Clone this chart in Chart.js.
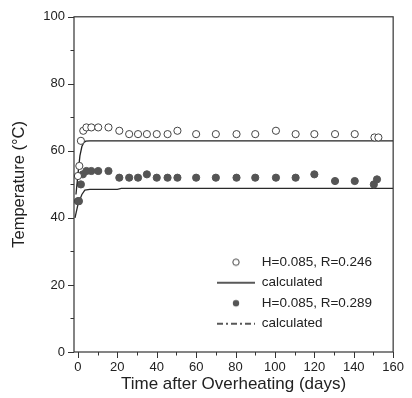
<!DOCTYPE html>
<html>
<head>
<meta charset="utf-8">
<script src="https://cdn.jsdelivr.net/npm/chart.js@4.4.1/dist/chart.umd.min.js"></script>
<style>
html,body{margin:0;padding:0;background:#fff;}
#wrap{width:412px;height:398px;}
</style>
</head>
<body>
<div id="wrap"><canvas id="c" width="412" height="398"></canvas></div>
<script>
// ---- data ----
const seriesNames = ['H=0.085, R=0.246', 'calculated', 'H=0.085, R=0.289', 'calculated'];

const openDays  = [0, 0.7, 1.5, 2.7, 4.3, 6.8, 10.3, 15.5, 21, 26, 30.5, 35, 40, 45.5, 50.5, 60, 70, 80.5, 90, 100.5, 110.5, 120, 130.5, 140.5, 150.5, 152.5];
const openTemps = [52.5, 55.5, 63, 66, 67, 67, 67, 67, 66, 65, 65, 65, 65, 65, 66, 65, 65, 65, 65, 66, 65, 65, 65, 65, 64, 64];

const filledDays  = [0, 0.5, 1.5, 2.5, 4.3, 6.8, 10.3, 15.5, 21, 26, 30.5, 35, 40, 45.5, 50.5, 60, 70, 80.5, 90, 100.5, 110.5, 120, 130.5, 140.5, 150.2, 151.8];
const filledTemps = [45, 45, 50, 53, 54, 54, 54, 54, 52, 52, 52, 53, 52, 52, 52, 52, 52, 52, 52, 52, 52, 53, 51, 51, 50, 51.5];

const calcADays  = [-1, 0, 1, 2, 3, 4, 6, 160];
const calcATemps = [47, 53, 58.5, 61.3, 62.5, 62.9, 63, 63];

const calcBDays  = [-1.5, 0, 2, 3.5, 6, 20, 22, 160];
const calcBTemps = [40, 44, 47, 48.3, 48.5, 48.5, 48.8, 48.8];

const xTickValues  = [0, 20, 40, 60, 80, 100, 120, 140, 160];
const xMinorValues = [10, 30, 50, 70, 90, 110, 130, 150];
const yTickValues  = [0, 20, 40, 60, 80, 100];
const yMinorValues = [10, 30, 50, 70, 90];

const xTitle = 'Time after Overheating (days)';
const yTitle = 'Temperature (\u00B0C)';

// ---- helpers ----
function zip(xs, ys){ return xs.map((v,i)=>({x:v, y:ys[i]})); }

function makeSymbol(kind){
  const c = document.createElement('canvas');
  const g = c.getContext('2d');
  if (kind === 'open' || kind === 'filled'){
    c.width = 10; c.height = 10;
    g.beginPath(); g.arc(5,5,3.2,0,Math.PI*2);
    if (kind === 'open'){ g.fillStyle='#fff'; g.fill(); g.lineWidth=1; g.strokeStyle='#444'; g.stroke(); }
    else { g.fillStyle='#555'; g.fill(); }
  } else {
    c.width = 38; c.height = 4;
    g.strokeStyle='#222'; g.lineWidth=1.3;
    if (kind === 'dashdot') g.setLineDash([6,3,2,3]);
    g.beginPath(); g.moveTo(0,2); g.lineTo(38,2); g.stroke();
  }
  return c;
}
const legendSymbols = [makeSymbol('open'), makeSymbol('solid'), makeSymbol('filled'), makeSymbol('dashdot')];

Chart.defaults.font.family = "'Liberation Sans', Arial, Helvetica, sans-serif";
Chart.defaults.color = '#222';

const framePlugin = {
  id: 'frameTicks',
  afterDatasetsDraw(chart){
    const {ctx, chartArea:{left,right,top,bottom}, scales:{x,y}} = chart;
    ctx.save();
    ctx.strokeStyle = '#333';
    ctx.lineWidth = 1.2;
    ctx.strokeRect(left, top, right-left, bottom-top);
    ctx.lineWidth = 1;
    ctx.beginPath();
    xTickValues.forEach(v=>{ const p = Math.round(x.getPixelForValue(v))+0.5; ctx.moveTo(p,bottom); ctx.lineTo(p,bottom+6); });
    xMinorValues.forEach(v=>{ const p = Math.round(x.getPixelForValue(v))+0.5; ctx.moveTo(p,bottom); ctx.lineTo(p,bottom+3.5); });
    yTickValues.forEach(v=>{ const p = Math.round(y.getPixelForValue(v))+0.5; ctx.moveTo(left,p); ctx.lineTo(left-6,p); });
    yMinorValues.forEach(v=>{ const p = Math.round(y.getPixelForValue(v))+0.5; ctx.moveTo(left,p); ctx.lineTo(left-3.5,p); });
    ctx.stroke();
    ctx.restore();
  }
};

const legendPosPlugin = {
  id: 'legendPos',
  afterLayout(chart){
    const lg = chart.legend;
    if (!lg) return;
    const w = lg.width, h = lg.height;
    lg.left = 210; lg.top = 248.5;
    lg.right = lg.left + w; lg.bottom = lg.top + h;
  }
};

new Chart(document.getElementById('c'), {
  type: 'scatter',
  data: {
    datasets: [
      { label: seriesNames[0], data: zip(openDays, openTemps), showLine: false,
        pointStyle: 'circle', pointRadius: 3.6, pointBackgroundColor: '#fff',
        pointBorderColor: '#444', pointBorderWidth: 1 },
      { label: seriesNames[1], data: zip(calcADays, calcATemps), showLine: true,
        pointRadius: 0, borderColor: '#222', borderWidth: 1.3, tension: 0 },
      { label: seriesNames[2], data: zip(filledDays, filledTemps), showLine: false,
        pointStyle: 'circle', pointRadius: 3.6, pointBackgroundColor: '#555',
        pointBorderColor: '#555', pointBorderWidth: 1 },
      { label: seriesNames[3], data: zip(calcBDays, calcBTemps), showLine: true,
        pointRadius: 0, borderColor: '#2a2a2a', borderWidth: 1.3, tension: 0 }
    ]
  },
  options: {
    responsive: false,
    animation: false,
    devicePixelRatio: 1,
    layout: { padding: { top: 15, right: 14, left: 0, bottom: 0 } },
    plugins: {
      tooltip: { enabled: false },
      legend: {
        position: 'chartArea',
        align: 'start',
        labels: {
          usePointStyle: true,
          pointStyleWidth: 38,
          padding: 7,
          font: { size: 13.5 },
          color: '#222',
          generateLabels(chart){
            return chart.data.datasets.map((ds,i)=>({
              text: ds.label,
              pointStyle: legendSymbols[i],
              fillStyle: '#fff', strokeStyle: '#222', lineWidth: 0,
              hidden: false, datasetIndex: i, fontColor: '#222'
            }));
          }
        }
      }
    },
    scales: {
      x: {
        type: 'linear', min: -2, max: 160,
        grid: { display: false, drawTicks: false }, border: { display: false },
        afterBuildTicks(s){ s.ticks = xTickValues.map(v=>({value:v})); },
        afterFit(s){ s.height = 46; },
        ticks: { padding: 8, font: { size: 13 }, color: '#222', callback: v => String(v) },
        title: { display: true, text: xTitle, font: { size: 17 }, color: '#222', padding: { top: 0, bottom: 3 } }
      },
      y: {
        type: 'linear', min: 0, max: 100,
        grid: { display: false, drawTicks: false }, border: { display: false },
        afterBuildTicks(s){ s.ticks = yTickValues.map(v=>({value:v})); },
        afterFit(s){ s.width = 74; },
        ticks: { padding: 9, font: { size: 13 }, color: '#222', callback: v => String(v) },
        title: { display: true, text: yTitle, font: { size: 16.5 }, color: '#222', padding: { top: 10, bottom: 0 } }
      }
    }
  },
  plugins: [framePlugin, legendPosPlugin]
});
</script>
</body>
</html>
